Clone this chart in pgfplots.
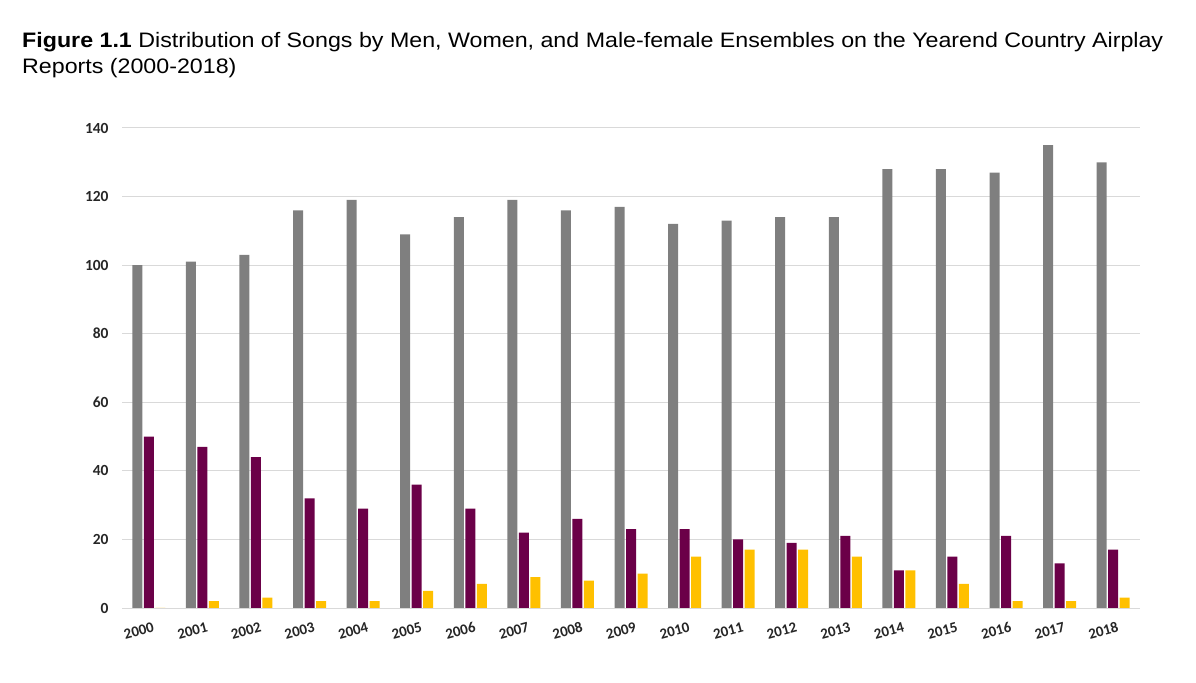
\documentclass[border=0pt]{standalone}
\usepackage{pgfplots}
\pgfplotsset{compat=1.18}
\usepackage{fontspec}
\setmainfont{Liberation Sans}
\newfontfamily\calibri{Carlito}

\definecolor{menc}{HTML}{7F7F7F}
\definecolor{womenc}{HTML}{6B0048}
\definecolor{ensc}{HTML}{FFC000}
\definecolor{gridc}{HTML}{D9D9D9}

\begin{document}
\begin{tikzpicture}
\path[use as bounding box] (0bp,0bp) rectangle (1196bp,683bp);

% title
\node[anchor=base west, inner sep=0pt] at (22bp,635bp)
  {\scalebox{1.11}[1]{\fontsize{21}{25}\selectfont\textbf{Figure 1.1} Distribution of Songs by Men, Women, and Male-female Ensembles on the Yearend Country Airplay}};
\node[anchor=base west, inner sep=0pt] at (22bp,609bp)
  {\scalebox{1.11}[1]{\fontsize{21}{25}\selectfont Reports (2000-2018)}};

\begin{axis}[
  at={(122bp,75bp)}, anchor=south west,
  scale only axis, width=1018bp, height=480bp,
  ybar=1.5bp, bar width=10bp,
  xmin=-0.5, xmax=18.5,
  ymin=0, ymax=140, ytick distance=20,
  xtick=data,
  xticklabels={2000,2001,2002,2003,2004,2005,2006,2007,2008,2009,2010,2011,2012,2013,2014,2015,2016,2017,2018},
  axis line style={draw=none},
  major tick style={draw=none},
  ymajorgrids, grid style={gridc, line width=1pt},
  yticklabel style={font=\calibri\bfseries\fontsize{15.5}{18}\selectfont, text=black!85, xshift=-10bp},
  xticklabel style={font=\calibri\bfseries\fontsize{15}{18}\selectfont, text=black!85, rotate=15, anchor=north east, inner sep=1bp, xshift=2bp, yshift=-9bp},
  /pgf/number format/assume math mode=true,
  clip=false,
]
\addplot[fill=menc, draw=none] coordinates {
  (0,100) (1,101) (2,103) (3,116) (4,119) (5,109) (6,114) (7,119) (8,116) (9,117)
  (10,112) (11,113) (12,114) (13,114) (14,128) (15,128) (16,127) (17,135) (18,130)
};
\addplot[fill=womenc, draw=none] coordinates {
  (0,50) (1,47) (2,44) (3,32) (4,29) (5,36) (6,29) (7,22) (8,26) (9,23)
  (10,23) (11,20) (12,19) (13,21) (14,11) (15,15) (16,21) (17,13) (18,17)
};
\addplot[fill=ensc, draw=none] coordinates {
  (0,0) (1,2) (2,3) (3,2) (4,2) (5,5) (6,7) (7,9) (8,8) (9,10)
  (10,15) (11,17) (12,17) (13,15) (14,11) (15,7) (16,2) (17,2) (18,3)
};
\end{axis}
\end{tikzpicture}
\end{document}
